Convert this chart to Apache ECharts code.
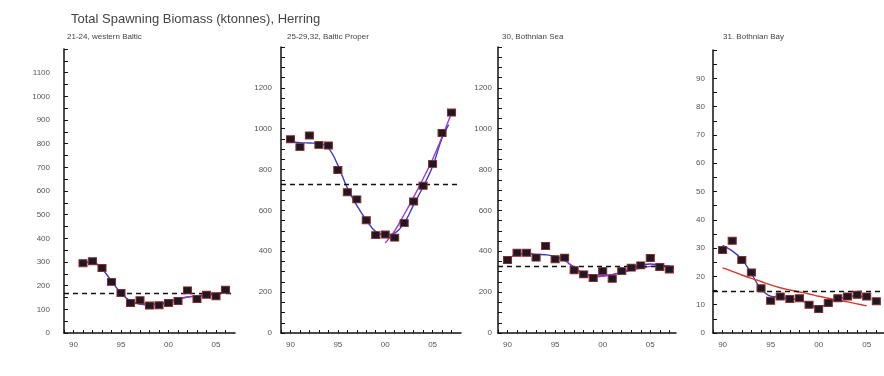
<!DOCTYPE html>
<html>
<head>
<meta charset="utf-8">
<script src="https://cdn.jsdelivr.net/npm/echarts@6/dist/echarts.min.js"></script>
<style>
  html, body { margin: 0; padding: 0; background: #fff; }
  #chart { width: 884px; height: 376px; }
</style>
</head>
<body>
<div id="chart"></div>
<script>
// panel titles
var mainTitle = 'Total Spawning Biomass (ktonnes), Herring';
var panelNames = ['21-24, western Baltic', '25-29,32, Baltic Proper', '30, Bothnian Sea', '31. Bothnian Bay'];

// 21-24 western Baltic
var wbYears = [1991, 1992, 1993, 1994, 1995, 1996, 1997, 1998, 1999, 2000, 2001, 2002, 2003, 2004, 2005, 2006];
var wbSsb = [295, 303, 275, 216, 169, 127, 138, 116, 117, 127, 135, 180, 144, 162, 155, 183];
var wbFit = [295, 300, 270, 220, 168, 135, 122, 118, 120, 130, 143, 152, 155, 160, 163, 178];
var wbFitYears2 = [1996, 1997, 1998, 1999, 2000, 2001, 2002, 2003, 2004, 2005, 2006];
var wbFit2 = [130, 125, 122, 125, 132, 143, 152, 158, 162, 165, 172];
var wbRef = 166;

// 25-29,32 Baltic Proper
var bpYears = [1990, 1991, 1992, 1993, 1994, 1995, 1996, 1997, 1998, 1999, 2000, 2001, 2002, 2003, 2004, 2005, 2006, 2007];
var bpSsb = [948, 910, 967, 921, 918, 798, 689, 654, 552, 479, 482, 467, 538, 644, 721, 828, 979, 1079];
var bpFitYears = [1990, 1991, 1992, 1993, 1994, 1995, 1996, 1997, 1998, 1999, 2000, 2001, 2002, 2003, 2004, 2005, 2006, 2006.7];
var bpFit = [937, 932, 930, 928, 905, 822, 710, 625, 553, 496, 480, 489, 538, 627, 716, 815, 955, 1020];
var bpFitYears2 = [2000, 2001, 2002, 2003, 2004, 2005, 2006, 2007];
var bpFit2 = [440, 500, 580, 665, 755, 850, 960, 1077];
var bpRef = 726;

// 30 Bothnian Sea
var bsYears = [1990, 1991, 1992, 1993, 1994, 1995, 1996, 1997, 1998, 1999, 2000, 2001, 2002, 2003, 2004, 2005, 2006, 2007];
var bsSsb = [357, 393, 393, 369, 426, 361, 369, 307, 287, 269, 303, 266, 303, 320, 331, 367, 323, 311];
var bsFit = [360, 385, 388, 385, 383, 375, 355, 320, 292, 278, 280, 285, 298, 315, 330, 338, 333, 325];
var bsFitYears2 = [1996, 1997, 1998, 1999, 2000, 2001, 2002, 2003, 2004, 2005, 2006, 2007];
var bsFit2 = [360, 320, 290, 275, 278, 286, 296, 308, 318, 326, 328, 330];
var bsRef = 328;

// 31 Bothnian Bay
var bbYears = [1990, 1991, 1992, 1993, 1994, 1995, 1996, 1997, 1998, 1999, 2000, 2001, 2002, 2003, 2004, 2005, 2006];
var bbSsb = [29.3, 32.6, 25.8, 21.4, 15.8, 11.4, 12.9, 12.0, 12.3, 10.0, 8.5, 10.6, 12.3, 12.9, 13.5, 12.9, 11.2];
var bbFitYears = [1990, 1991, 1992, 1993, 1994, 1995, 1996, 1997, 1998, 1999, 2000, 2001, 2002, 2003, 2004, 2005];
var bbFit = [31, 29, 26, 21, 15.5, 13, 12.6, 12, 11.8, 10, 9, 10.5, 12, 12.8, 13.2, 12.5];
var bbTrend = [23, 21.8, 20.5, 19.3, 18.2, 17, 16, 15.2, 14.5, 13.8, 13, 12.3, 11.6, 11, 10.3, 9.6];
var bbRef = 14.6;

function pairs(xs, ys) {
    return xs.map(function (x, i) { return [x, ys[i]]; });
}

var chart = echarts.init(document.getElementById('chart'));

var grids = [
    { left: 64, top: 49, width: 171, height: 284 },
    { left: 281, top: 47, width: 180, height: 286 },
    { left: 498, top: 47, width: 178, height: 286 },
    { left: 713, top: 50, width: 171, height: 283 }
];
var xMax = [2007, 2008, 2007.7, 2006.8];
// y axes: max, tick step, label step, label margin
var yCfg = [
    { max: 1200, step: 50, lab: 100, margin: 14 },
    { max: 1400, step: 50, lab: 200, margin: 9 },
    { max: 1400, step: 50, lab: 200, margin: 6 },
    { max: 100, step: 5, lab: 10, margin: 8 }
];

var axisLine = { show: true, lineStyle: { color: '#111', width: 1.5 } };
var labelColor = '#555';

var xAxes = grids.map(function (g, i) {
    return {
        type: 'value', gridIndex: i, min: 1989, max: xMax[i], interval: 1,
        axisLine: axisLine,
        axisTick: { show: true, inside: true, length: 3, lineStyle: { color: '#111' } },
        splitLine: { show: false },
        axisLabel: {
            color: labelColor, fontSize: 8, margin: 8, showMaxLabel: false,
            formatter: function (v) { return v % 5 === 0 ? String(v).slice(2) : ''; }
        }
    };
});

var yAxes = yCfg.map(function (c, i) {
    return {
        type: 'value', gridIndex: i, min: 0, max: c.max, interval: c.step,
        axisLine: axisLine,
        axisTick: { show: true, inside: true, length: 4, lineStyle: { color: '#111' } },
        splitLine: { show: false },
        axisLabel: {
            color: labelColor, fontSize: 8, margin: c.margin,
            formatter: function (v) { return (Math.round(v) % c.lab === 0 && v < c.max) ? String(v) : ''; }
        }
    };
});

function pointSeries(i, xs, ys, ref) {
    return {
        type: 'scatter', xAxisIndex: i, yAxisIndex: i, z: 5,
        symbol: 'rect', symbolSize: [8, 7],
        itemStyle: { color: '#1c1824', borderColor: '#8a2a2a', borderWidth: 1, opacity: 1 },
        data: pairs(xs, ys),
        markLine: {
            silent: true, symbol: 'none', label: { show: false },
            lineStyle: { color: '#111', type: [5, 4], width: 1.3 },
            data: [{ yAxis: ref }]
        }
    };
}

function lineSeries(i, xs, ys, color) {
    return {
        type: 'line', xAxisIndex: i, yAxisIndex: i, smooth: 0.4, showSymbol: false,
        lineStyle: { color: color, width: 1.4 }, z: 3,
        data: pairs(xs, ys)
    };
}

var blue = '#3a3ac8', purple = '#9a3ad0', red = '#d03a2a';

var titles = [{
    text: mainTitle, left: 66, top: 8,
    textStyle: { fontSize: 13, fontWeight: 'normal', color: '#444', fontFamily: 'Liberation Sans, Arial, sans-serif' }
}];
var subLeft = [62, 282, 497, 718];
panelNames.forEach(function (n, i) {
    titles.push({
        text: n, left: subLeft[i], top: 28,
        textStyle: { fontSize: 8, fontWeight: 'normal', color: '#444', fontFamily: 'Liberation Sans, Arial, sans-serif' }
    });
});

var option = {
    backgroundColor: '#fff',
    animation: false,
    textStyle: { fontFamily: 'Liberation Sans, Arial, sans-serif' },
    title: titles,
    grid: grids,
    xAxis: xAxes,
    yAxis: yAxes,
    series: [
        lineSeries(0, wbYears, wbFit, blue),
        lineSeries(0, wbFitYears2, wbFit2, purple),
        pointSeries(0, wbYears, wbSsb, wbRef),

        lineSeries(1, bpFitYears, bpFit, blue),
        lineSeries(1, bpFitYears2, bpFit2, purple),
        pointSeries(1, bpYears, bpSsb, bpRef),

        lineSeries(2, bsYears, bsFit, blue),
        lineSeries(2, bsFitYears2, bsFit2, purple),
        pointSeries(2, bsYears, bsSsb, bsRef),

        lineSeries(3, bbFitYears, bbFit, blue),
        lineSeries(3, bbFitYears, bbTrend, red),
        pointSeries(3, bbYears, bbSsb, bbRef)
    ]
};

chart.setOption(option);
</script>
</body>
</html>
